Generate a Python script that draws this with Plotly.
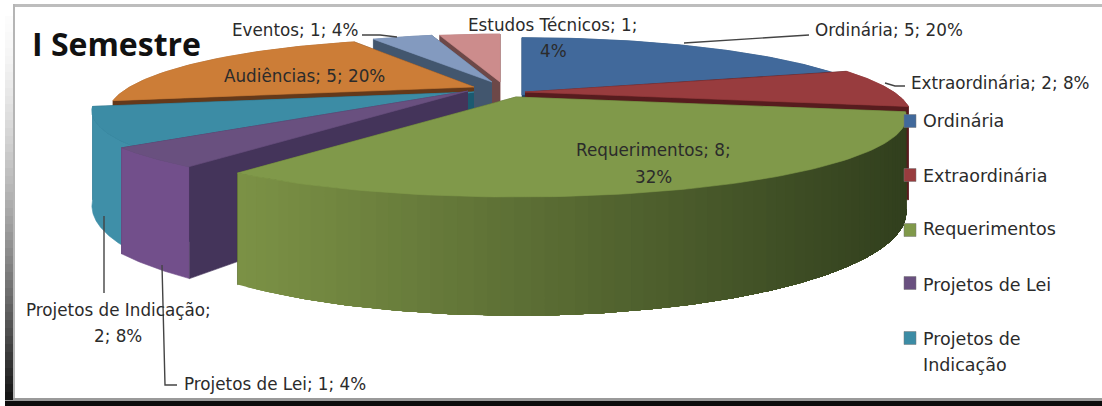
import numpy as np
import plotly.graph_objects as go

# ---- data
categories = ["Ordinária", "Extraordinária", "Requerimentos", "Projetos de Lei",
              "Projetos de Indicação", "Audiências", "Eventos", "Estudos Técnicos"]
values = [5, 2, 8, 1, 2, 5, 1, 1]
percents = [20, 8, 32, 4, 8, 20, 4, 4]
legend_lines = ["Ordinária", "Extraordinária", "Requerimentos", "Projetos de Lei", "Projetos de", "Indicação"]

# ---- style / projection
TOP = ["#41699b", "#983c3e", "#80994a", "#69507f", "#3c8ca5", "#cc7d37", "#839abf", "#cc8c8c"]
CUT = ["#1d3d63", "#571c1e", "#4b5c28", "#44345a", "#1c5a70", "#64391a", "#42566e", "#6d4848"]
WALL = ["#2f5582", "#8c3537", "#7a9145", "#724f8b", "#3f8fa8", "#a0602a", "#6a7fa0", "#a87272"]
APEX = [(522, 95), (525, 92), (516, 97), (468, 91), (474, 92), (474, 87), (492, 82), (500, 82)]
R_START = [.945, .96, 1.0, 1.0, .98, .93, .76, .76]
R_END = [.945, .985, 1.0, 1.0, .98, .80, .76, .76]
END_PAD = [0, 0, 0, 0, 0, -1, 0, 0]
VISIBLE_EDGE = [-1, -1, None, 0, 0, 0, 0, 0]
A, B, K, D = 378.0, 75.0, .25, 89.0
DRAW_ORDER = [7, 6, 0, 1, 5, 4, 3, 2]
FONT = "DejaVu Sans"
TXT = "#2b2b2b"

edges = 90 - 360 * np.concatenate([[0], np.cumsum(values)]) / sum(values)
fig = go.Figure()


def poly(xs, ys, color, lw=0.6):
    fig.add_trace(go.Scatter(x=list(xs), y=list(ys), mode="lines", fill="toself", fillcolor=color,
                             line=dict(width=lw, color=color), hoverinfo="skip", showlegend=False))


def project(i, deg):
    deg = np.asarray(deg)
    a0, a1 = edges[i], edges[i + 1] + END_PAD[i]
    r = R_START[i] + (R_END[i] - R_START[i]) * (deg - a0) / (a1 - a0)
    t = np.radians(deg)
    u, v = r * np.cos(t), r * np.sin(t)
    w = 1 + K * v
    return APEX[i][0] + A * u / w, APEX[i][1] - B * v / w, D / w


def mix(c1, c2, f):
    return "rgb(%d,%d,%d)" % tuple(c1[j] + (c2[j] - c1[j]) * f for j in range(3))


for i in DRAW_ORDER:
    a = np.linspace(edges[i], edges[i + 1] + END_PAD[i], 90)
    x, y, d = project(i, a)
    ax, ay = APEX[i]

    def cut(k):
        poly([ax, x[k], x[k], ax], [ay, y[k], y[k] + d[k], ay + D], CUT[i])

    for k in (0, -1):
        if k != VISIBLE_EDGE[i]:
            cut(k)
    if i == 2:
        # green wall shades from light (left) to dark (right): paint from the left end
        # towards the right, each band running to the far end so that no seams appear
        a2 = np.linspace(edges[i + 1], edges[i], 300)
        x2, y2, d2 = project(i, a2)
        n = 70
        idx = np.linspace(0, 299, n + 1).astype(int)
        for s in range(n):
            lo = idx[s]
            f = (x2[lo] - 236) / (900 - 236)
            poly(np.r_[x2[lo:], x2[lo:][::-1]],
                 np.r_[y2[lo:], (y2 + d2)[lo:][::-1]],
                 mix((124, 146, 70), (50, 64, 30), f), lw=0)
    else:
        poly(np.r_[x, x[::-1]], np.r_[y, (y + d)[::-1]], WALL[i])
    if VISIBLE_EDGE[i] is not None:
        cut(VISIBLE_EDGE[i])
    poly(np.r_[ax, x, ax], np.r_[ay, y, ay], TOP[i])

# frame
shapes = [
    dict(type="rect", x0=13, x1=1102, y0=4, y1=7, fillcolor="#bdbdbd", line_width=0),
    dict(type="rect", x0=5, x1=1102, y0=398, y1=401, fillcolor="#9a9a9a", line_width=0),
    dict(type="rect", x0=5, x1=1102, y0=401, y1=406, fillcolor="#0c0c0c", line_width=0),
]
for s in range(48):
    y0 = 16 + s * 8
    f = s / 47
    shapes.append(dict(type="rect", x0=5, x1=13, y0=y0, y1=y0 + 8, line_width=0,
                       fillcolor=mix((252, 252, 252), (22, 22, 22), f ** 1.5)))
shapes.append(dict(type="rect", x0=13, x1=15, y0=4, y1=398, fillcolor="#b5b5b5", line_width=0))

# legend swatches
legend_y = [121, 175, 230, 283, 338]
for c, yy in zip(TOP[:5], legend_y):
    shapes.append(dict(type="rect", x0=904, x1=916, y0=yy - 6.5, y1=yy + 6.5, fillcolor=c,
                       line=dict(color="#777777", width=0.5)))

# leader lines
leaders = [
    ([684, 785, 809], [43, 36, 35]),
    ([885, 895, 905], [83, 86, 86]),
    ([362, 380, 397], [35, 35, 37]),
    ([104, 104], [216, 293]),
    ([162, 165, 177], [265, 385, 385]),
]
for lx, ly in leaders:
    fig.add_trace(go.Scatter(x=lx, y=ly, mode="lines", line=dict(color="#444444", width=1.4),
                             hoverinfo="skip", showlegend=False))

lab = [f"{c}; {v}; {p}%" for c, v, p in zip(categories, values, percents)]


def note(x, y, text, anchor="center", size=16.8):
    return dict(x=x, y=y, text=text, showarrow=False, xanchor=anchor, yanchor="middle",
                font=dict(family=FONT, size=size, color=TXT), align="center")


anns = [
    dict(x=30, y=43, text="<b>I Semestre</b>", showarrow=False, xanchor="left", yanchor="middle",
         font=dict(family="Open Sans", size=32, color="#111111")),
    note(813, 30, lab[0], "left"),
    note(909, 83, lab[1], "left"),
    note(653, 150, f"{categories[2]}; {values[2]};"),
    note(653, 177, f"{percents[2]}%"),
    note(182, 384, lab[3], "left"),
    note(118, 310, f"{categories[4]};"),
    note(118, 336, f"{values[4]}; {percents[4]}%"),
    note(304, 76, lab[5]),
    note(295, 30, lab[6]),
    note(552, 25, f"{categories[7]}; {values[7]};"),
    note(553, 51, f"{percents[7]}%"),
]
for t, yy in zip(legend_lines, [121, 176, 229, 285, 339, 365]):
    anns.append(note(921, yy, t, "left", size=17.5))

fig.update_layout(
    width=1102, height=406, margin=dict(l=0, r=0, t=0, b=0),
    paper_bgcolor="white", plot_bgcolor="white", showlegend=False,
    xaxis=dict(range=[0, 1102], visible=False, fixedrange=True),
    yaxis=dict(range=[406, 0], visible=False, fixedrange=True),
    shapes=shapes, annotations=anns,
)
fig.write_html("out.html", post_script="document.body.style.margin='0';document.body.style.overflow='hidden';",
               config={"displayModeBar": False})
